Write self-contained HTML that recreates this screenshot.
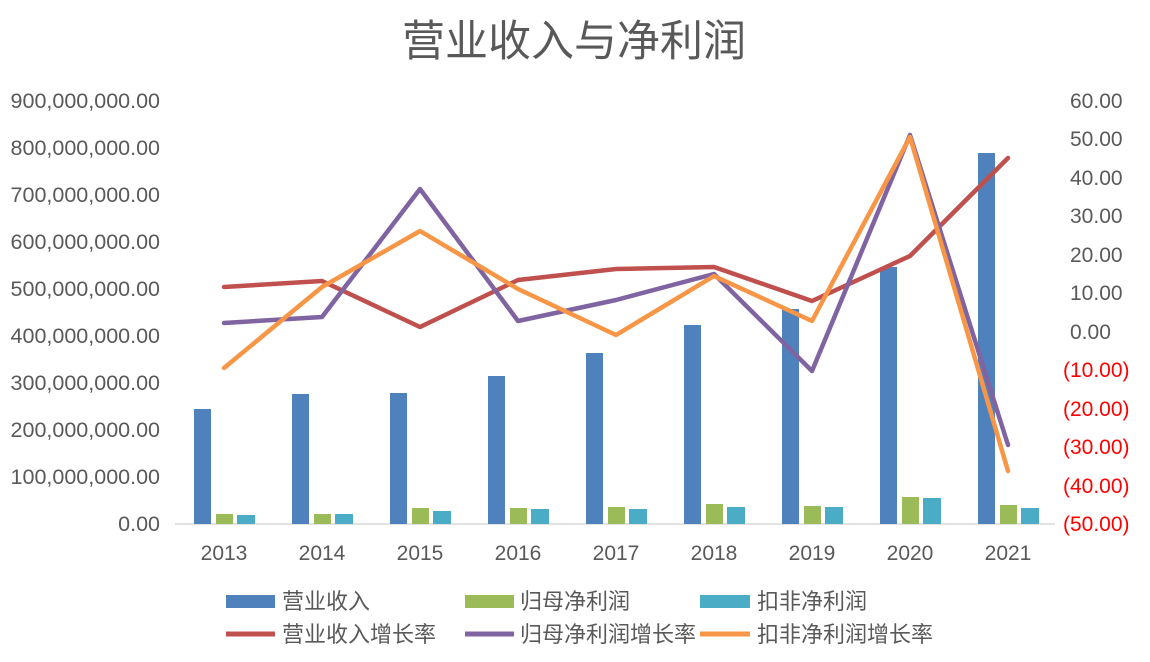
<!DOCTYPE html>
<html><head><meta charset="utf-8"><style>body{margin:0;background:#fff}svg{display:block}</style></head><body>
<svg width="1150" height="662" xmlns="http://www.w3.org/2000/svg" font-family="Liberation Sans, Noto Sans CJK SC, sans-serif">
<text x="574" y="56" text-anchor="middle" font-size="43" fill="#595959" font-family="Noto Sans CJK SC, sans-serif">营业收入与净利润</text>
<g font-size="21.5" fill="#595959" text-anchor="end">
<text x="160" y="108">900,000,000.00</text>
<text x="160" y="155">800,000,000.00</text>
<text x="160" y="202">700,000,000.00</text>
<text x="160" y="249">600,000,000.00</text>
<text x="160" y="296">500,000,000.00</text>
<text x="160" y="343">400,000,000.00</text>
<text x="160" y="390">300,000,000.00</text>
<text x="160" y="437">200,000,000.00</text>
<text x="160" y="484">100,000,000.00</text>
<text x="160" y="531">0.00</text>
</g>
<g font-size="21" fill="#595959">
<text x="1070" y="108">60.00</text>
<text x="1070" y="146">50.00</text>
<text x="1070" y="185">40.00</text>
<text x="1070" y="223">30.00</text>
<text x="1070" y="262">20.00</text>
<text x="1070" y="300">10.00</text>
<text x="1070" y="339">0.00</text>
<g fill="#ff0000">
<text x="1063" y="377">(10.00)</text>
<text x="1063" y="416">(20.00)</text>
<text x="1063" y="454">(30.00)</text>
<text x="1063" y="493">(40.00)</text>
<text x="1063" y="531">(50.00)</text>
</g></g>
<line x1="175" y1="524" x2="1055" y2="524" stroke="#d9d9d9" stroke-width="1.5"/>
<g font-size="21" fill="#595959" text-anchor="middle">
<text x="224" y="560">2013</text><text x="322" y="560">2014</text><text x="420" y="560">2015</text><text x="518" y="560">2016</text><text x="616" y="560">2017</text><text x="714" y="560">2018</text><text x="812" y="560">2019</text><text x="910" y="560">2020</text><text x="1008" y="560">2021</text>
</g>
<g fill="#4f81bd">
<rect x="194" y="409" width="17" height="115"/><rect x="292" y="394" width="17" height="130"/><rect x="390" y="393" width="17" height="131"/><rect x="488" y="376" width="17" height="148"/><rect x="586" y="353" width="17" height="171"/><rect x="684" y="325" width="17" height="199"/><rect x="782" y="309" width="17" height="215"/><rect x="880" y="267" width="17" height="257"/><rect x="978" y="153" width="17" height="371"/>
</g>
<g fill="#9bbb59">
<rect x="216" y="514" width="17" height="10"/><rect x="314" y="514" width="17" height="10"/><rect x="412" y="508" width="17" height="16"/><rect x="510" y="508" width="17" height="16"/><rect x="608" y="507" width="17" height="17"/><rect x="706" y="504" width="17" height="20"/><rect x="804" y="506" width="17" height="18"/><rect x="902" y="497" width="17" height="27"/><rect x="1000" y="505" width="17" height="19"/>
</g>
<g fill="#4bacc6">
<rect x="237" y="515" width="18" height="9"/><rect x="335" y="514" width="18" height="10"/><rect x="433" y="511" width="18" height="13"/><rect x="531" y="509" width="18" height="15"/><rect x="629" y="509" width="18" height="15"/><rect x="727" y="507" width="18" height="17"/><rect x="825" y="507" width="18" height="17"/><rect x="923" y="498" width="18" height="26"/><rect x="1021" y="508" width="18" height="16"/>
</g>
<g fill="none" stroke-width="4.5" stroke-linejoin="round" stroke-linecap="round">
<polyline stroke="#c0504d" points="224,287 322,281 420,327 518,280 616,269 714,267 812,301 910,256 1008,158"/>
<polyline stroke="#8064a2" points="224,323 322,317 420,189 518,321 616,300 714,274 812,371 910,135 1008,445"/>
<polyline stroke="#f79646" points="224,368 322,287 420,231 518,289 616,335 714,276 812,321 910,137 1008,471"/>
</g>
<g font-size="22" fill="#595959" font-family="Noto Sans CJK SC, sans-serif">
<rect x="226" y="595" width="49" height="13" fill="#4f81bd"/><text x="282" y="609">营业收入</text>
<rect x="465" y="595" width="49" height="13" fill="#9bbb59"/><text x="520" y="609">归母净利润</text>
<rect x="700" y="595" width="50" height="13" fill="#4bacc6"/><text x="757" y="609">扣非净利润</text>
<line x1="226" y1="634" x2="275" y2="634" stroke="#c0504d" stroke-width="5"/><text x="282" y="642">营业收入增长率</text>
<line x1="465" y1="634" x2="514" y2="634" stroke="#8064a2" stroke-width="5"/><text x="520" y="642">归母净利润增长率</text>
<line x1="700" y1="634" x2="750" y2="634" stroke="#f79646" stroke-width="5"/><text x="757" y="642">扣非净利润增长率</text>
</g>
</svg>
</body></html>
